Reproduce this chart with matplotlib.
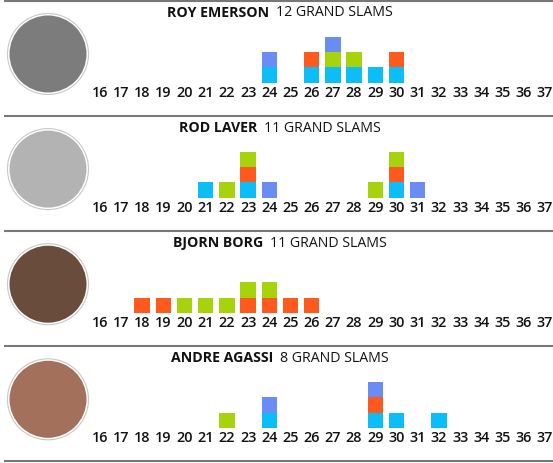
import numpy as np
import matplotlib
matplotlib.use('Agg')
import matplotlib.pyplot as plt
from matplotlib.patches import Circle

plt.rcParams['font.family'] = ['Open Sans', 'DejaVu Sans']

# ages on the axis
ages = list(range(16, 38))

players = ["ROY EMERSON", "ROD LAVER", "BJORN BORG", "ANDRE AGASSI"]
totals = ["12 GRAND SLAMS", "11 GRAND SLAMS", "11 GRAND SLAMS", "8 GRAND SLAMS"]

# age at each title, per tournament (AO, French, Wimbledon, US)
emerson_ao = [24, 26, 27, 28, 29, 30]
emerson_fo = [26, 30]
emerson_w = [27, 28]
emerson_us = [24, 27]

laver_ao = [21, 23, 30]
laver_fo = [23, 30]
laver_w = [22, 23, 29, 30]
laver_us = [24, 31]

borg_ao = []
borg_fo = [18, 19, 23, 24, 25, 26]
borg_w = [20, 21, 22, 23, 24]
borg_us = []

agassi_ao = [24, 29, 30, 32]
agassi_fo = [29]
agassi_w = [22]
agassi_us = [24, 29]

wins = [
    [emerson_ao, emerson_fo, emerson_w, emerson_us],
    [laver_ao, laver_fo, laver_w, laver_us],
    [borg_ao, borg_fo, borg_w, borg_us],
    [agassi_ao, agassi_fo, agassi_w, agassi_us],
]

colors = ['#0dbdf8', '#fe5a1d', '#a6d30c', '#6a8df5']
photo_colors = ['#7c7c7c', '#b3b3b3', '#6a4c3c', '#a3705c']

W, H = 553, 463
fig = plt.figure(figsize=(W / 100, H / 100), dpi=100)

bg = fig.add_axes([0, 0, 1, 1])
bg.set_xlim(0, W)
bg.set_ylim(H, 0)
bg.axis('off')

step = 115.1
px_per_age = 21.2
x16 = 99.7
ax_left = x16 - px_per_age / 2
ax_right = W
titles = []
for i in range(4):
    top = 1 + step * i
    bg.plot([4, W], [top, top], color='#777777', lw=1.5, solid_capstyle='butt')

    # photo placeholder
    cy = top + 53
    bg.add_patch(Circle((48, cy), 40.5, fc='white', ec='#c8c8c8', lw=0.8))
    bg.add_patch(Circle((48, cy), 38.5, fc=photo_colors[i], ec='none'))

    # title
    t1 = bg.text(0, top + 12, players[i], fontsize=10.2, fontweight='bold',
                 color='#111111', va='center', ha='left')
    t2 = bg.annotate(totals[i], xy=(1, 0.5), xycoords=t1, xytext=(5, 0),
                     textcoords='offset points', fontsize=10.2, color='#111111',
                     va='center', ha='left')
    titles.append((t1, t2))

    # stacked squares
    base = top + 81.7
    sq = 15.3
    ax = fig.add_axes([ax_left / W, 1 - base / H, (ax_right - ax_left) / W, 4 * sq / H])
    ax.set_facecolor('none')
    bottom = np.zeros(len(ages))
    for won, c in zip(wins[i], colors):
        counts = np.array([won.count(a) for a in ages])
        ax.bar(ages, counts, bottom=bottom, width=0.72, color=c, linewidth=0)
        bottom += counts
    ax.set_xlim(15.5, 15.5 + (ax_right - ax_left) / px_per_age)
    ax.set_ylim(0, 4)
    ax.set_xticks(ages)
    ax.set_xticklabels([str(a) for a in ages], fontsize=10.4, fontweight='semibold',
                       color='#111111')
    ax.tick_params(length=0, pad=2.2)
    ax.set_yticks([])
    for s in ax.spines.values():
        s.set_visible(False)

bg.plot([4, W], [1 + step * 4, 1 + step * 4], color='#777777', lw=1.5,
        solid_capstyle='butt')

# center each two-part title around x = 280
fig.canvas.draw()
r = fig.canvas.get_renderer()
inv = bg.transData.inverted()
for t1, t2 in titles:
    b1 = t1.get_window_extent(r)
    b2 = t2.get_window_extent(r)
    x0 = inv.transform((b1.x0, 0))[0]
    x1 = inv.transform((b2.x1, 0))[0]
    shift = 280 - (x0 + x1) / 2
    t1.set_x(t1.get_position()[0] + shift)

fig.savefig('out.png', dpi=100)
